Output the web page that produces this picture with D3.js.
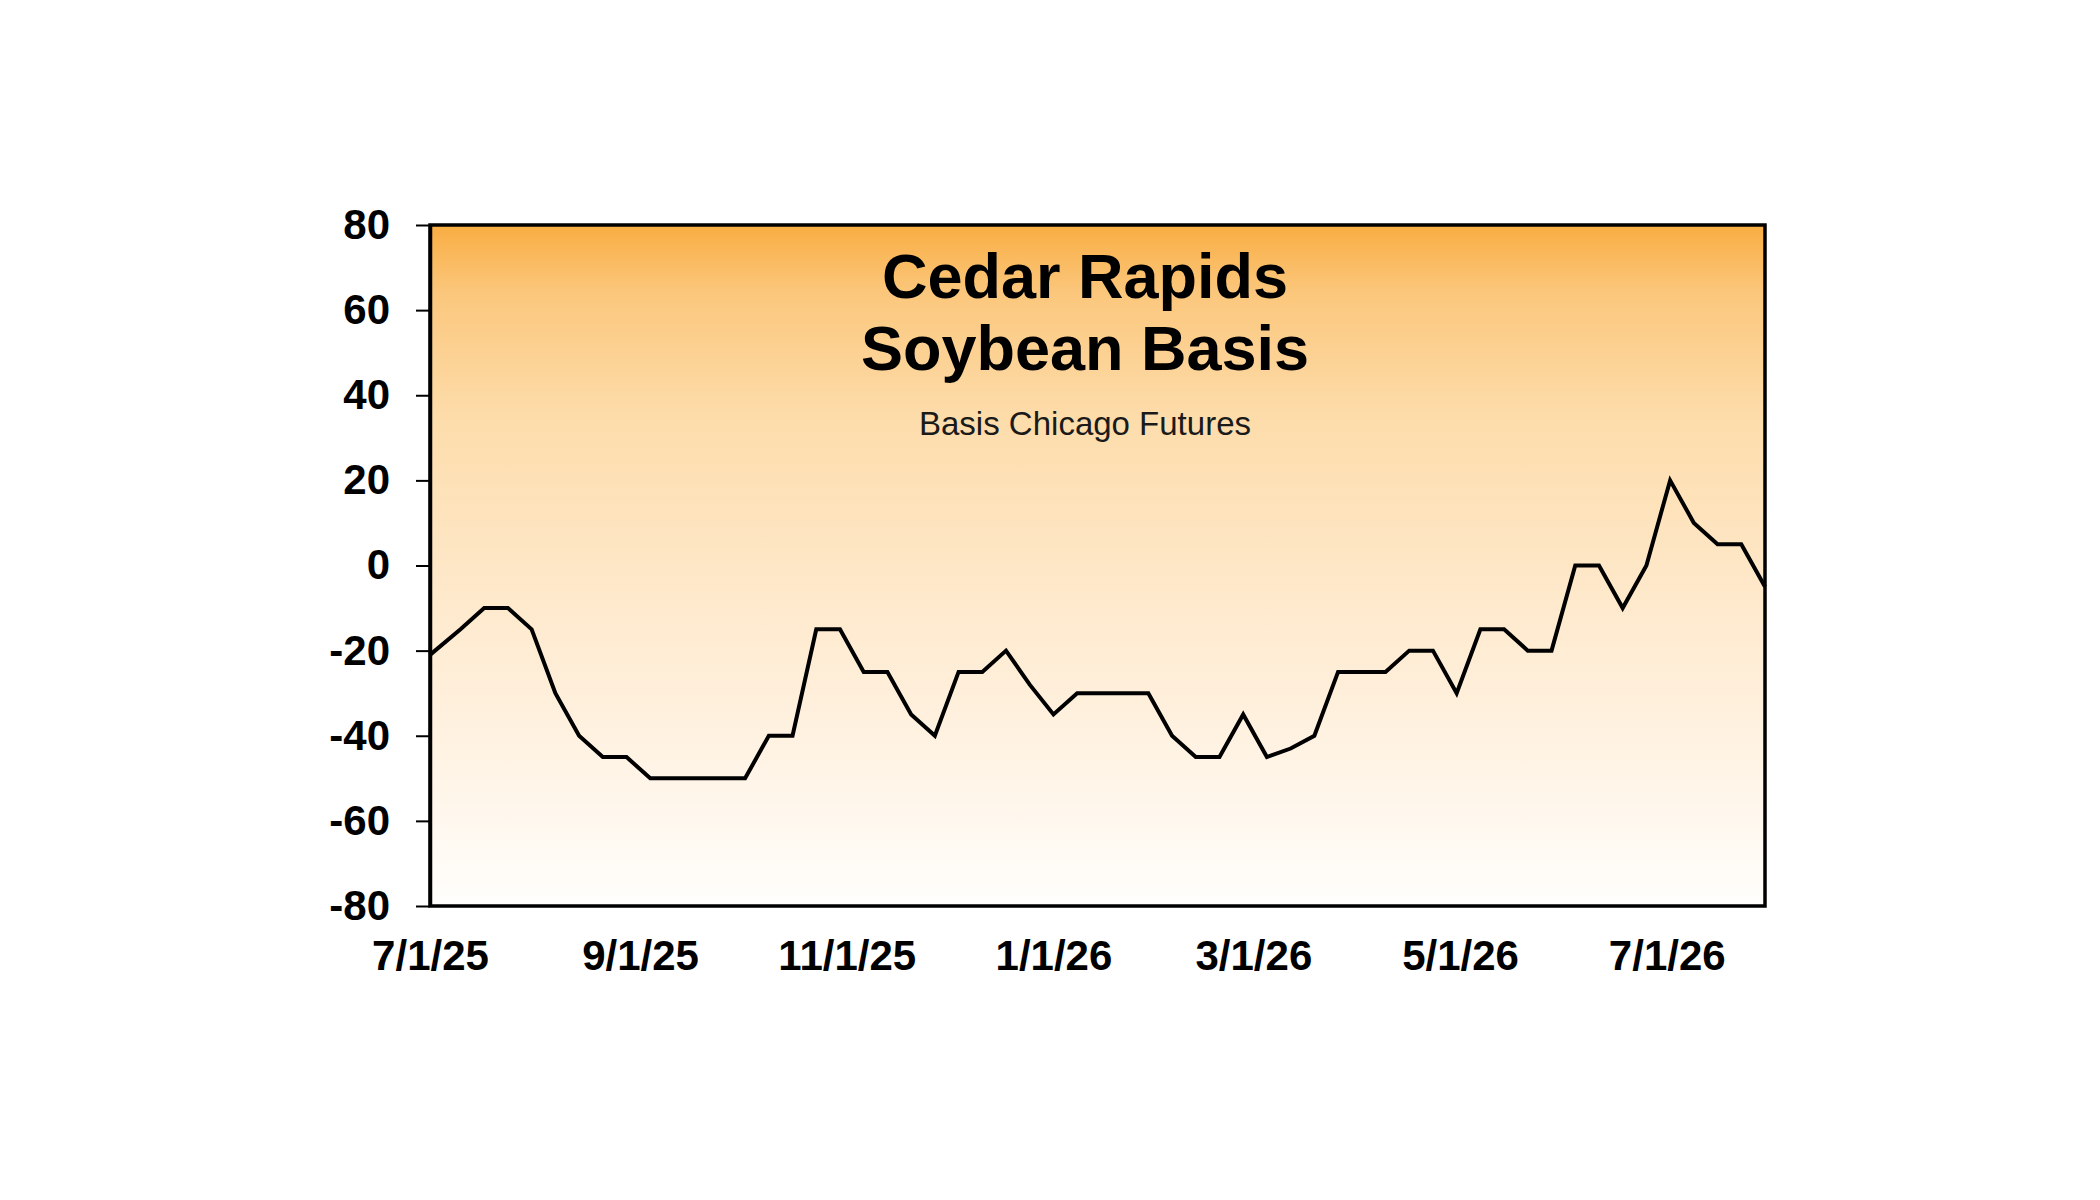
<!DOCTYPE html>
<html>
<head>
<meta charset="utf-8">
<script src="https://cdn.jsdelivr.net/npm/d3@7"></script>
<style>
  body { margin: 0; background: #fff; }
  text { font-family: "Liberation Sans", Arial, sans-serif; }
</style>
</head>
<body>
<div id="chart"></div>
<script>
var w = 2100;
var h = 1200;

// tick labels on the two axes
var xTickLabels = ["7/1/25", "9/1/25", "11/1/25", "1/1/26", "3/1/26", "5/1/26", "7/1/26"];
var yTickValues = [-80, -60, -40, -20, 0, 20, 40, 60, 80];

// first quote, then weekly (Thursday) quotes
var firstDate = "7/1/25",
    weeklyFrom = "7/10/25",
    weeklyTo = "7/30/26",
    axisEnd = "7/30/26";

// basis, cents under Chicago futures
var firstValue = -21;
var weeklyValues = [
  -15, -10, -10, -15, -30, -40, -45, -45, -50, -50,
  -50, -50, -50, -40, -40, -15, -15, -25, -25, -35,
  -40, -25, -25, -20, -28, -35, -30, -30, -30, -30,
  -40, -45, -45, -35, -45, -43, -40, -25, -25, -25,
  -20, -20, -30, -15, -15, -20, -20,   0,   0, -10,
    0,  20,  10,   5,   5,  -5
];

var titleLines = ["Cedar Rapids", "Soybean Basis"],
    subTitle = "Basis Chicago Futures";

var parseDate = d3.timeParse("%m/%d/%y");
var fmtDate = d3.timeFormat("%-m/%-d/%y");

var weeklyDates = d3.timeThursday.range(parseDate(weeklyFrom), d3.timeDay.offset(parseDate(weeklyTo), 1));
var data = [{date: parseDate(firstDate), value: firstValue}].concat(
  weeklyDates.map(function(d, i) { return {date: d, value: weeklyValues[i]}; })
);

var svg = d3.select("#chart")
    .append("svg")
    .attr("width", w)
    .attr("height", h);

var margin = {top: 225, right: 335, bottom: 294, left: 430},
    width = w - margin.left - margin.right,
    height = h - margin.top - margin.bottom;

var x = d3.scaleTime()
    .domain([parseDate(firstDate), parseDate(axisEnd)])
    .range([0, width]);
var y = d3.scaleLinear().domain([-80, 80]).range([height, 0]);

// background gradient of the plot area
var grad = svg.append("defs").append("linearGradient")
    .attr("id", "bg")
    .attr("x1", 0).attr("y1", 0).attr("x2", 0).attr("y2", 1);
[[0, "#f9ad42"], [0.1, "#fbc77c"], [0.28, "#fddcaa"], [0.55, "#fee9cc"], [0.8, "#fff4e6"], [1, "#fffefc"]]
  .forEach(function(s) {
    grad.append("stop").attr("offset", s[0]).attr("stop-color", s[1]);
  });

var g = svg.append("g")
    .attr("transform", "translate(" + margin.left + "," + margin.top + ")");

g.append("rect")
    .attr("width", width)
    .attr("height", height)
    .attr("fill", "url(#bg)");

// title block
var title = g.append("text")
    .attr("text-anchor", "middle")
    .attr("font-weight", "bold")
    .attr("font-size", "63px")
    .attr("fill", "#000");
titleLines.forEach(function(t, i) {
  title.append("tspan")
      .attr("x", 655)
      .attr("y", 73 + i * 72)
      .text(t);
});
g.append("text")
    .attr("x", 655)
    .attr("y", 210)
    .attr("text-anchor", "middle")
    .attr("font-size", "33px")
    .attr("fill", "#1a1a1a")
    .text(subTitle);

// the basis line
var line = d3.line()
    .x(function(d) { return x(d.date); })
    .y(function(d) { return y(d.value); });

g.append("path")
    .datum(data)
    .attr("fill", "none")
    .attr("stroke", "#000")
    .attr("stroke-width", 4)
    .attr("stroke-linejoin", "miter")
    .attr("d", line);

// frame
g.append("rect")
    .attr("width", width)
    .attr("height", height)
    .attr("fill", "none")
    .attr("stroke", "#000")
    .attr("stroke-width", 3.5);

// y axis (plain hyphen for negatives, like the original)
var yAxis = g.append("g")
    .call(d3.axisLeft(y)
      .tickValues(yTickValues)
      .tickFormat(function(d) { return String(d); })
      .tickSize(14).tickSizeOuter(0).tickPadding(26));
yAxis.select(".domain").attr("stroke-width", 3.5);
yAxis.selectAll(".tick line").attr("stroke-width", 2);
yAxis.selectAll(".tick text")
    .attr("font-size", "42px")
    .attr("font-weight", "bold")
    .attr("fill", "#000")
    .attr("font-family", "'Liberation Sans', Arial, sans-serif");

// x axis
var xAxis = g.append("g")
    .attr("transform", "translate(0," + height + ")")
    .call(d3.axisBottom(x)
      .tickValues(xTickLabels.map(parseDate))
      .tickFormat(fmtDate)
      .tickSize(0)
      .tickPadding(34));
xAxis.select(".domain").remove();
xAxis.selectAll(".tick text")
    .attr("font-size", "42px")
    .attr("font-weight", "bold")
    .attr("fill", "#000")
    .attr("font-family", "'Liberation Sans', Arial, sans-serif");
</script>
</body>
</html>
